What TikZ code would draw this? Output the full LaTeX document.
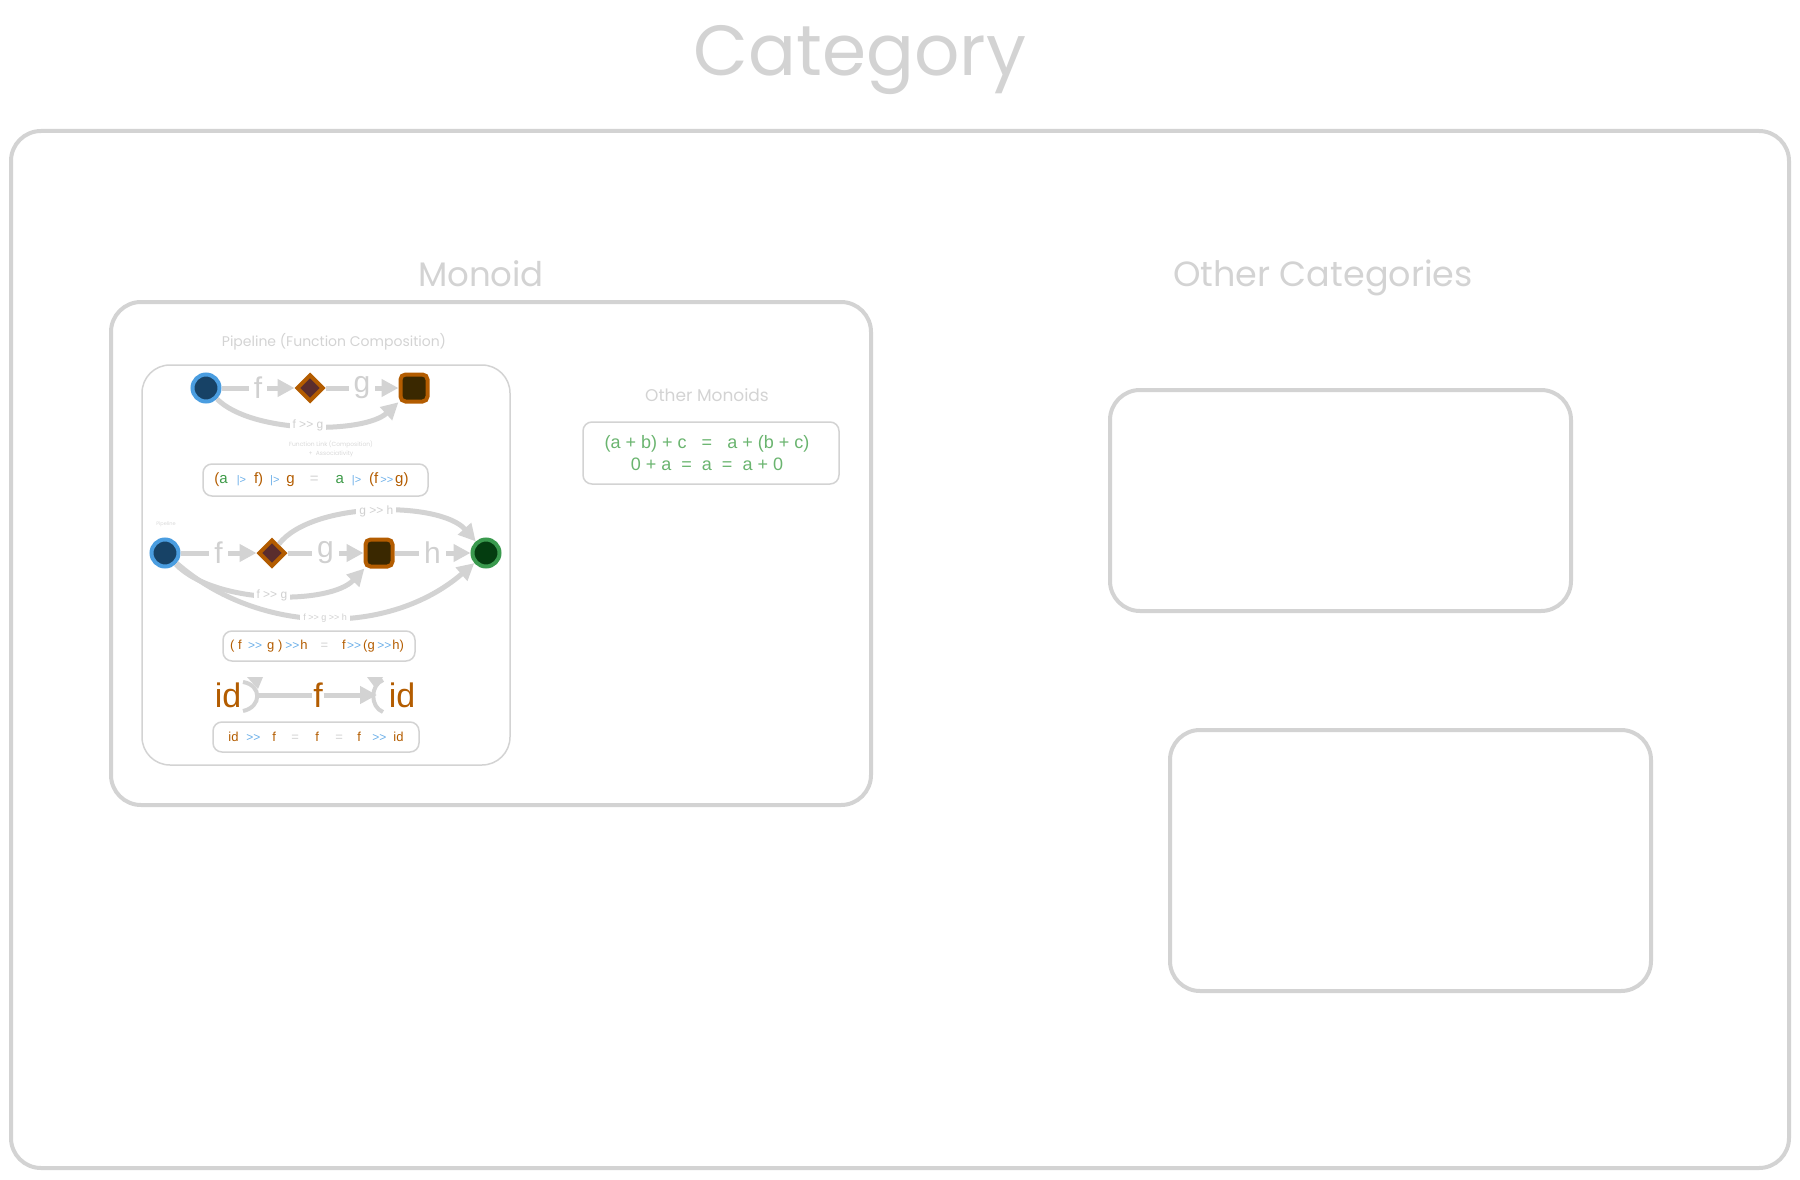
\documentclass[tikz,border=0pt]{standalone}
\usepackage{fontspec}
\setmainfont{Liberation Sans}
\newfontfamily\sketchfont{Poppins}
\usetikzlibrary{arrows.meta,shapes.geometric,calc}
\definecolor{lg}{HTML}{D3D3D3}
\definecolor{lbltext}{HTML}{D0D0D0}
\definecolor{tinytext}{HTML}{D8D8D8}
\definecolor{orng}{HTML}{B35C00}
\definecolor{opblue}{HTML}{6AAEE8}
\definecolor{grn}{HTML}{3D9A48}
\definecolor{lgrn}{HTML}{6AB46F}
\definecolor{cblue}{HTML}{4A9DE0}
\definecolor{cbluefill}{HTML}{174266}
\definecolor{dfill}{HTML}{5A2D2D}
\definecolor{sqfill}{HTML}{3A2800}
\definecolor{cgreen}{HTML}{3A9A4E}
\definecolor{cgreenfill}{HTML}{043D10}
\newcommand{\fsz}[1]{\fontsize{#1}{#1}\selectfont}
\newcommand{\eqO}[1]{\textcolor{orng}{#1}}
\newcommand{\eqG}[1]{\textcolor{grn}{#1}}
\newcommand{\eqE}[1]{\textcolor{lg}{#1}}
\newcommand{\eqB}[2]{{\fsz{#1}\textcolor{opblue}{#2}}}
\newcommand{\gtg}{>\kern0pt>}
\newcommand{\hs}[1]{\hspace*{#1pt}}
\begin{document}
\begin{tikzpicture}[x=1pt,y=-1pt,
  frame/.style={draw=lg, line width=4pt, rounded corners=30pt},
  thinframe/.style={draw=lg, line width=1.5pt, rounded corners=28pt},
  eqbox/.style={draw=lg, line width=1.5pt, rounded corners=9pt, inner sep=0pt},
  title/.style={text=lg, font=\sketchfont\fsz{#1}, anchor=base},
  edge/.style={draw=lg, line width=5pt, -{Triangle[length=17pt,width=17pt]}},
  plainedge/.style={draw=lg, line width=5pt},
  elbl/.style={fill=white, text=lbltext, inner sep=5pt, font=\fsz{#1}},
  bluec/.style={circle, draw=cblue, fill=cbluefill, line width=4pt, minimum size=27pt, inner sep=0pt},
  greenc/.style={circle, draw=cgreen, fill=cgreenfill, line width=4pt, minimum size=27pt, inner sep=0pt},
  diam/.style={diamond, draw=orng, fill=dfill, line width=4pt, minimum size=27pt, inner sep=0pt},
  sq/.style={rectangle, rounded corners=5pt, draw=orng, fill=sqfill, line width=4pt, minimum size=27pt, inner sep=0pt},
  idtext/.style={text=orng, inner sep=1pt, font=\fsz{34}}
]
\useasboundingbox (0,0) rectangle (1800,1180);

% titles and frames
\node[title=71] (tCat) at (860,76) {Category};
\draw[frame] (11,131) rectangle (1789,1168);
\node[title=34] (tMon) at (481,286) {Monoid};
\node[title=35] (tOther) at (1323,286) {Other Categories};
\draw[frame] (111,302) rectangle (871,805);
\draw[frame] (1110,390) rectangle (1571,611);
\draw[frame] (1170,730) rectangle (1651,991);

% pipeline group
\node[title=14] (tPipe) at (334,346) {Pipeline (Function Composition)};
\draw[thinframe] (142,365) rectangle (510,765);

% other monoids
\node[title=17] (tOM) at (707,401) {Other Monoids};
\node[eqbox, minimum width=256pt, minimum height=62pt, align=center, text=lgrn, font=\fsz{18}] (omBox) at (711,453)
  {(a + b) + c~~~=~~~a + (b + c)\hs{8}\\[4pt]0 + a~~=~~a~~=~~a + 0\hs{8}};

% top diagram
\node[bluec] (c1) at (206,388) {};
\node[diam] (d1) at (310,388) {};
\node[sq] (s1) at (414,388) {};
\draw[edge] (c1) -- (d1) node[elbl=30, midway] {f};
\draw[edge] (d1) -- (s1) node[elbl=30, midway] {g};
\draw[edge] (c1) .. controls (252,434) and (364,434) .. (s1) node[elbl=12, midway, inner sep=3pt] {f \gtg{} g};
\node[text=tinytext, font=\sketchfont\fsz{6}, align=center, inner sep=0pt] (tLink) at (331,449) {Function Link (Composition)\\[1pt]+~~Associativity};
\node[eqbox, minimum width=225pt, minimum height=32pt, font=\fsz{15}] (eq1) at (315.5,480)
  {\eqO{(}\eqG{a}\hs{9}\eqB{11}{|>}\hs{8}\eqO{f)}\hs{7}\eqB{11}{|>}\hs{7}\eqO{g}\hs{15}\eqE{=}\hs{17}\eqG{a}\hs{8}\eqB{11}{|>}\hs{8}\eqO{(f}\hs{2}\eqB{11}{\gtg}\hs{2}\eqO{g)}\hs{8}};

% second diagram
\node[text=tinytext, font=\sketchfont\fsz{5}, inner sep=0pt] (tP2) at (166,524) {Pipeline};
\node[bluec] (c2) at (165,553) {};
\node[diam] (d2) at (272,553) {};
\node[sq] (s2) at (379,553) {};
\node[greenc] (e2) at (486,553) {};
\draw[edge] (c2) .. controls (260,636) and (390,636) .. (e2) node[elbl=9, midway, inner sep=3pt] {f \gtg{} g \gtg{} h};
\draw[edge] (c2) .. controls (215,605) and (330,605) .. (s2) node[elbl=12, midway, inner sep=3pt] {f \gtg{} g};
\draw[edge] (d2) .. controls (312,501) and (440,501) .. (e2) node[elbl=12, midway, inner sep=3pt] {g \gtg{} h};
\draw[edge] (c2) -- (d2) node[elbl=30, midway] {f};
\draw[edge] (d2) -- (s2) node[elbl=30, midway] {g};
\draw[edge] (s2) -- (e2) node[elbl=30, midway] {h};
\node[eqbox, minimum width=192pt, minimum height=30pt, font=\fsz{13}] (eq2) at (319,646)
  {\eqO{( f}\hs{6.5}\eqB{12}{\gtg}\hs{5}\eqO{g )}\hs{3}\eqB{12}{\gtg}\hs{1}\eqO{h}\hs{13}\eqE{=}\hs{14}\eqO{f}\hs{1.4}\eqB{12}{\gtg}\hs{2}\eqO{(g}\hs{2.5}\eqB{12}{\gtg}\hs{1}\eqO{h)}\hs{4}};

% identity diagram
\node[idtext] (idL) at (228,695) {id};
\node[idtext] (f3) at (318,695) {f};
\node[idtext] (idR) at (402,695) {id};
\coordinate (aL) at (258,695);
\coordinate (aR) at (377,695);
\draw[plainedge] (f3) -- (aL);
\draw[draw=lg, line width=4pt] ($(aL)+(-15,-13)$) .. controls ($(aL)+(4,-10)$) and ($(aL)+(4,12)$) .. ($(aL)+(-15,16)$);
\fill[lg] ($(aL)+(-11,-18)$) -- ($(aL)+(5,-18)$) -- ($(aL)+(0,-6)$) -- cycle;
\draw[edge] (f3) -- (aR);
\draw[draw=lg, line width=4pt] ($(aR)+(6,-15)$) .. controls ($(aR)+(-7,-10)$) and ($(aR)+(-7,12)$) .. ($(aR)+(6,17)$);
\fill[lg] ($(aR)+(-10,-18)$) -- ($(aR)+(6,-18)$) -- ($(aR)+(-1,-6)$) -- cycle;
\node[eqbox, minimum width=206pt, minimum height=30pt, font=\fsz{13}] (eq3) at (316,737)
  {\eqO{id}\hs{7.9}\eqB{12}{\gtg}\hs{12}\eqO{f}\hs{15.4}\eqE{=}\hs{16.4}\eqO{f}\hs{16.4}\eqE{=}\hs{14.4}\eqO{f}\hs{11.4}\eqB{12}{\gtg}\hs{7}\eqO{id}};
\end{tikzpicture}
\end{document}
